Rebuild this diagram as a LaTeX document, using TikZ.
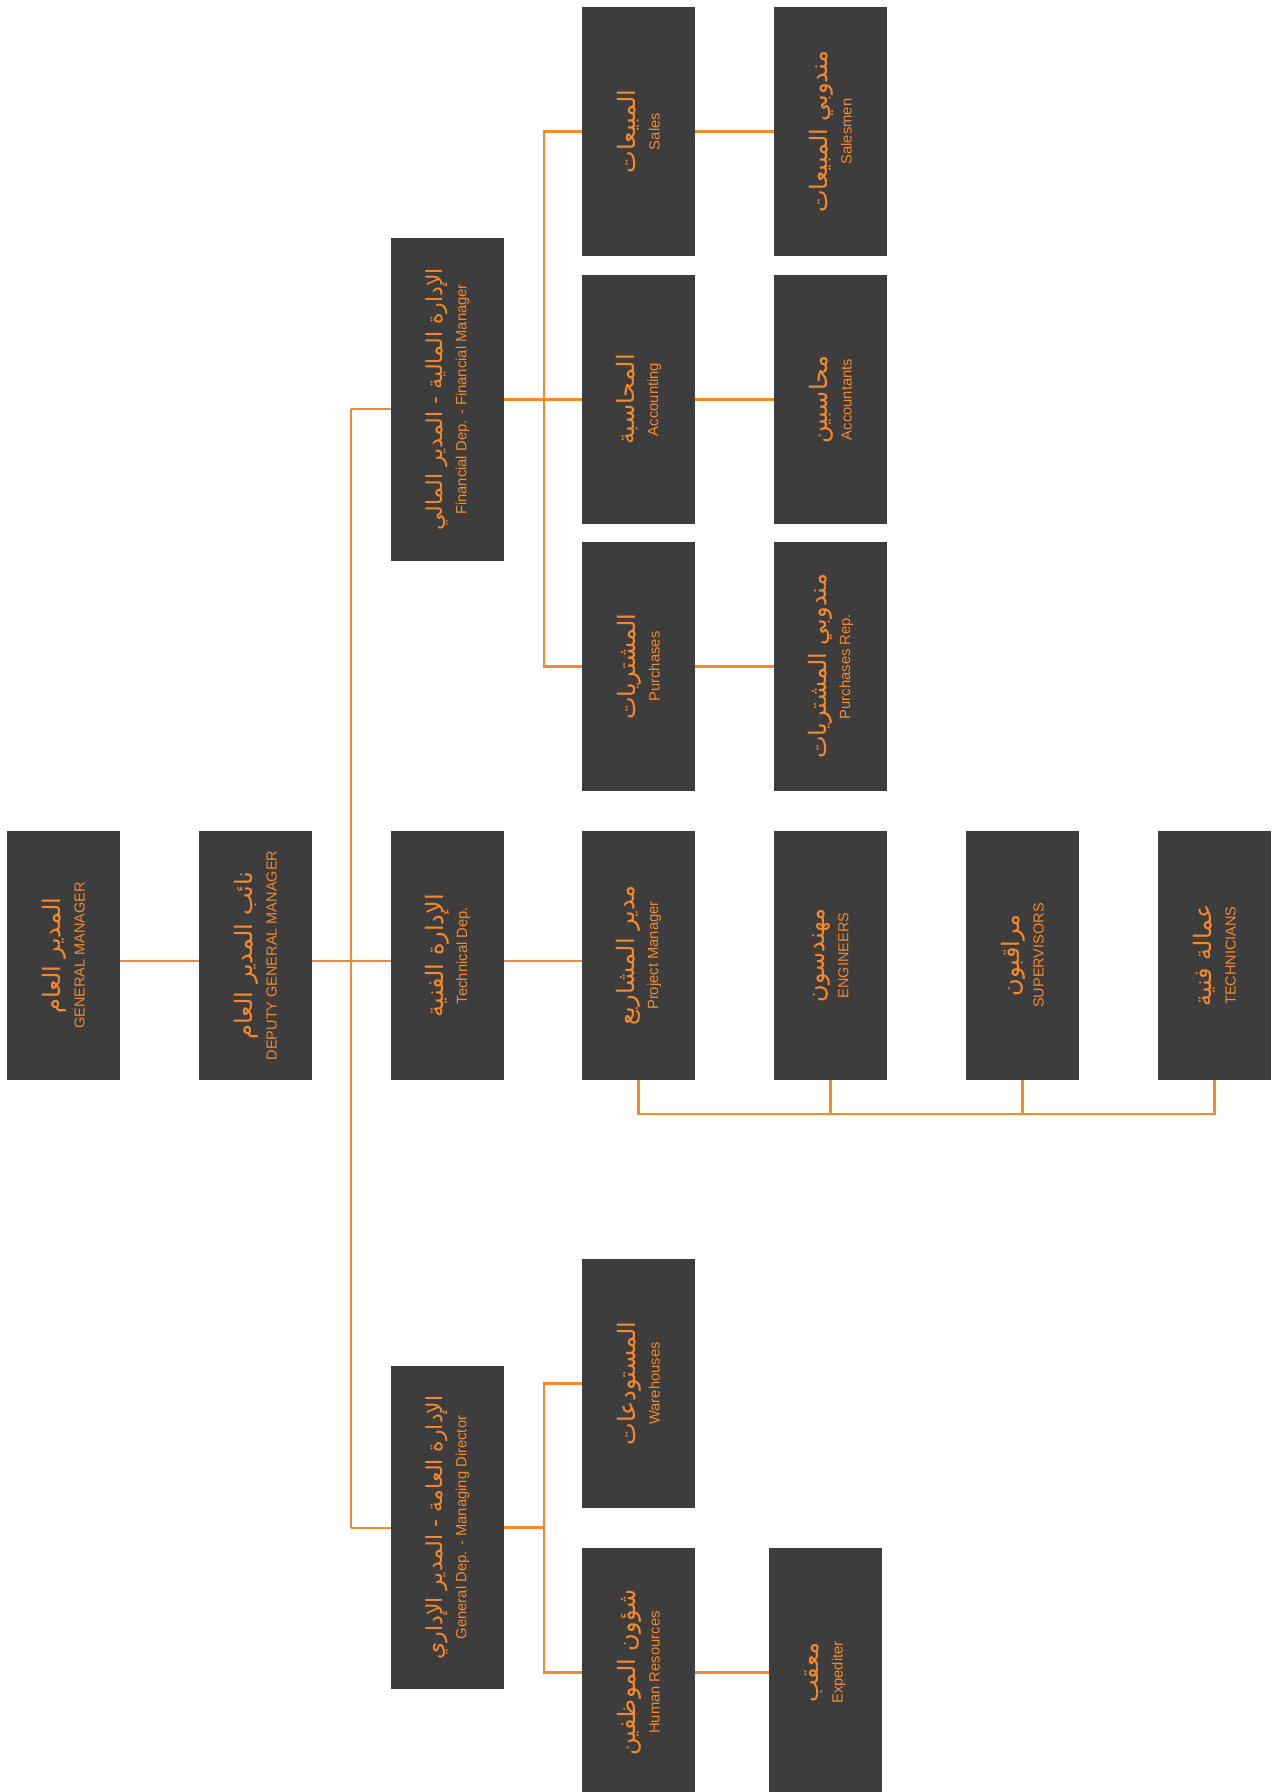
\documentclass[tikz,border=0pt]{standalone}
\usepackage{fontspec}
\setmainfont{Liberation Sans}
\newfontfamily\arabicfont[Script=Arabic]{DejaVu Sans}
\TeXXeTstate=1
\definecolor{boxgray}{HTML}{3D3D3D}
\definecolor{orng}{HTML}{F7892B}
\newcommand\arline[2][24]{{\arabicfont\fontsize{#1}{#1}\selectfont\beginR #2\endR}}
\newcommand\enline[2][14.8]{{\fontsize{#1}{#1}\selectfont #2}}
\tikzset{
  unitbox/.style={fill=boxgray, draw=none, minimum width=113pt, minimum height=249pt, inner sep=0pt, outer sep=0pt, anchor=north west},
  tallbox/.style={unitbox, minimum height=323pt},
  lbl/.style={rotate=90, text=orng, align=center, inner sep=0pt, font=\fontsize{14}{24}\selectfont},
  link/.style={draw=orng, line width=2.6pt}
}
\begin{document}
\begin{tikzpicture}[x=1pt,y=-1pt]
\useasboundingbox (0,0) rectangle (1274,1792);
% boxes
\node[unitbox] (gm) at (7,831) {};
\node[unitbox] (dgm) at (199,831) {};
\node[unitbox] (tech) at (391,831) {};
\node[tallbox] (fin) at (391,238) {};
\node[tallbox] (gen) at (391,1366) {};
\node[unitbox] (sales) at (582,7) {};
\node[unitbox] (salesmen) at (774,7) {};
\node[unitbox] (acc) at (582,275) {};
\node[unitbox] (accts) at (774,275) {};
\node[unitbox] (pur) at (582,542) {};
\node[unitbox] (purrep) at (774,542) {};
\node[unitbox] (pm) at (582,831) {};
\node[unitbox] (eng) at (774,831) {};
\node[unitbox] (sup) at (966,831) {};
\node[unitbox] (techn) at (1158,831) {};
\node[unitbox] (wh) at (582,1259) {};
\node[unitbox] (hr) at (582,1548) {};
\node[unitbox] (exp) at (769,1548) {};
% labels
\node[lbl] (gm-t) at (gm.center) {\arline{المدير العام}\\\enline[14.5]{GENERAL MANAGER}};
\node[lbl] (dgm-t) at (dgm.center) {\arline{نائب المدير العام}\\\enline[14.5]{DEPUTY GENERAL MANAGER}};
\node[lbl] (tech-t) at (tech.center) {\arline{الإدارة الفنية}\\\enline{Technical Dep.}};
\node[lbl] (fin-t) at (fin.center) {\arline[22]{الإدارة المالية - المدير المالي}\\\enline{Financial Dep. - Financial Manager}};
\node[lbl] (gen-t) at (gen.center) {\arline[22]{الإدارة العامة - المدير الإداري}\\\enline{General Dep. - Managing Director}};
\node[lbl] (sales-t) at (sales.center) {\arline{المبيعات}\\\enline{Sales}};
\node[lbl] (salesmen-t) at (salesmen.center) {\arline{مندوبي المبيعات}\\\enline{Salesmen}};
\node[lbl] (acc-t) at (acc.center) {\arline{المحاسبة}\\\enline{Accounting}};
\node[lbl] (accts-t) at (accts.center) {\arline{محاسبين}\\\enline{Accountants}};
\node[lbl] (pur-t) at (pur.center) {\arline{المشتريات}\\\enline{Purchases}};
\node[lbl] (purrep-t) at (purrep.center) {\arline{مندوبي المشتريات}\\\enline{Purchases Rep.}};
\node[lbl] (pm-t) at (pm.center) {\arline{مدير المشاريع}\\\enline{Project Manager}};
\node[lbl] (eng-t) at (eng.center) {\arline{مهندسون}\\\enline[14.5]{ENGINEERS}};
\node[lbl] (sup-t) at (sup.center) {\arline{مراقبون}\\\enline[14.5]{SUPERVISORS}};
\node[lbl] (techn-t) at (techn.center) {\arline{عمالة فنية}\\\enline[14.5]{TECHNICIANS}};
\node[lbl] (wh-t) at (wh.center) {\arline{المستودعات}\\\enline{Warehouses}};
\node[lbl] (hr-t) at (hr.center) {\arline{شؤون الموظفين}\\\enline{Human Resources}};
\node[lbl] (exp-t) at (exp.center) {\arline{معقب}\\\enline{Expediter}};
% bus coordinates
\coordinate (fbus) at (544,0);
\coordinate (gbus) at (544,0);
\coordinate (tbus) at (0,1114);
\coordinate (finin) at (351,409);
\coordinate (genin) at (351,1528);
% connectors
\draw[link] ([yshift=-5.5pt]gm.east) -- ([yshift=-5.5pt]dgm.west);
\draw[link] ([yshift=-5.5pt]dgm.east) -- ([yshift=-5.5pt]tech.west);
\draw[link] (finin) -- (genin);
\draw[link] (finin) -- (finin -| fin.west);
\draw[link] (genin) -- (genin -| gen.west);
\draw[link] ([yshift=-5.5pt]tech.east) -- ([yshift=-5.5pt]pm.west);
\draw[link] (fin.east) -- (acc.west);
\draw[link] (sales.west) -- (sales.west -| fbus) -- (pur.west -| fbus) -- (pur.west);
\draw[link] (sales.east) -- (salesmen.west);
\draw[link] (acc.east) -- (accts.west);
\draw[link] (pur.east) -- (purrep.west);
\draw[link] (gen.east) -- (gen.east -| gbus);
\draw[link] (wh.west) -- (wh.west -| gbus) -- (hr.west -| gbus) -- (hr.west);
\draw[link] (hr.east) -- (exp.west);
\draw[link] (pm.south) -- (pm.south |- tbus) -- (techn.south |- tbus) -- (techn.south);
\draw[link] (eng.south) -- (eng.south |- tbus);
\draw[link] (sup.south) -- (sup.south |- tbus);
\end{tikzpicture}
\end{document}
